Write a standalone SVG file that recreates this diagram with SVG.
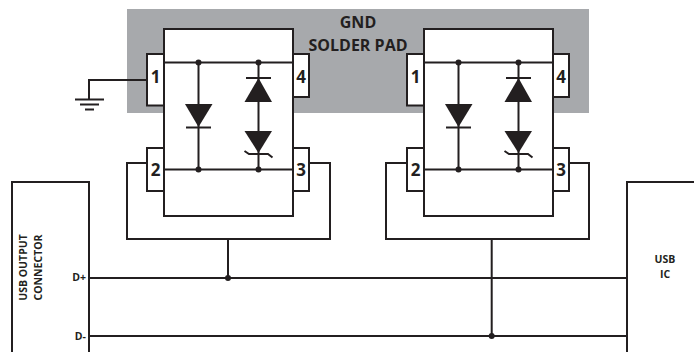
<svg xmlns="http://www.w3.org/2000/svg" width="694" height="352" viewBox="0 0 694 352">
<defs>
<style>
.w{fill:none;stroke:#231f20;stroke-width:2}
.t{fill:#231f20;stroke:none}
.p{fill:#fff;stroke:#231f20;stroke-width:2}
text{font-family:"Open Sans","Liberation Sans",sans-serif;font-weight:700;fill:#231f20}
.n{font-size:17px;text-anchor:middle}
.s{font-size:10.500px;text-anchor:middle}
.g{font-size:16px;text-anchor:middle}
</style>
<g id="chip">
<rect class="p" x="147" y="54" width="17" height="51.500"/>
<rect class="p" x="293" y="54" width="16" height="43"/>
<rect class="p" x="147" y="148" width="17" height="43"/>
<rect class="p" x="293" y="148" width="16" height="43"/>
<rect class="p" x="164" y="29" width="129" height="187"/>
<path class="w" d="M164 62.500H293M164 169.500H293M198.500 62.500V169.500M258.500 62.500V169.500"/>
<circle class="t" cx="198.500" cy="62.500" r="3"/><circle class="t" cx="258.500" cy="62.500" r="3"/>
<circle class="t" cx="198.500" cy="169.500" r="3"/><circle class="t" cx="258.500" cy="169.500" r="3"/>
<path class="t" d="M185 104H212.500L198.500 127Z"/>
<path class="w" d="M186 127.500H211M246 78H271M244.500 151L249 154H268L272.500 157.500"/>
<path class="t" d="M258.500 78L272 102H244.500Z"/>
<path class="t" d="M244.500 131H272L258.500 153Z"/>
</g>
</defs>
<rect id="solder-pad" x="127" y="9" width="462" height="104" fill="#a7a9ac"/>
<g id="pad-label">
<text class="g" x="358" y="28">GND</text>
<text class="g" x="358" y="51">SOLDER PAD</text>
</g>
<g id="connectors">
<path class="w" d="M147 80H89V99M75 99.500H104M80 104.500H99M85 109.500H94"/>
<path class="w" d="M147 163H127V239H330V163H309M228 239V278"/>
<path class="w" d="M407 163H386V239H589V163H569M491.700 239V336"/>
<path class="w" d="M89 278H627M89 336H627"/>
<circle class="t" cx="228" cy="278" r="3"/>
<circle class="t" cx="491.700" cy="336" r="3"/>
</g>
<g id="u1">
<use href="#chip"/>
<text class="n" x="155.500" y="83">1</text><text class="n" x="301" y="83">4</text>
<text class="n" x="155.500" y="176">2</text><text class="n" x="301" y="176">3</text>
</g>
<g id="u2">
<use href="#chip" x="260"/>
<text class="n" x="415.500" y="83">1</text><text class="n" x="561" y="83">4</text>
<text class="n" x="415.500" y="176">2</text><text class="n" x="561" y="176">3</text>
</g>
<g id="usb-connector">
<path class="w" d="M12 352V182H89V352"/>
<text class="s" transform="translate(26.500 267.500) rotate(-90)">USB OUTPUT</text>
<text class="s" transform="translate(42 267.500) rotate(-90)">CONNECTOR</text>
<text class="s" x="86" y="281" style="text-anchor:end">D+</text>
<text class="s" x="86" y="340" style="text-anchor:end">D-</text>
</g>
<g id="usb-ic">
<path class="w" d="M694 182H627V352"/>
<text class="s" x="665" y="263">USB</text>
<text class="s" x="665" y="278">IC</text>
</g>
</svg>
